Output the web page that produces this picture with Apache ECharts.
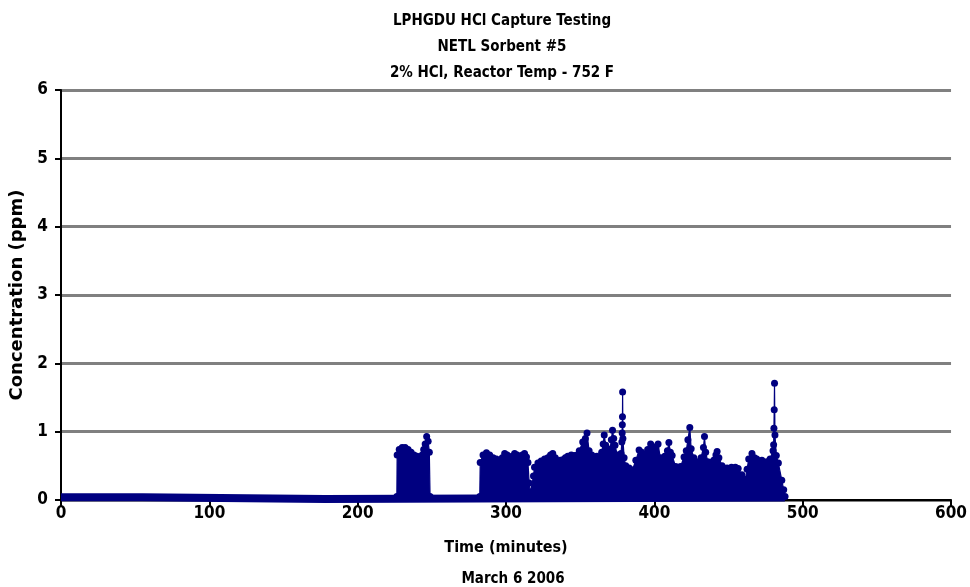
<!DOCTYPE html>
<html>
<head>
<meta charset="utf-8">
<title>LPHGDU HCl Capture Testing</title>
<script src="https://cdn.jsdelivr.net/npm/echarts@6/dist/echarts.min.js"></script>
<style>
  html, body {margin:0; padding:0; background:#fff;}
  #main {width:970px; height:587px;}
</style>
</head>
<body>
<div id="main"></div>
<script>
// baseline level (ppm) before / between the capture bursts
var baseTimes  = [0, 55, 55, 178, 178, 488];
var baseValues = [0.04, 0.04, 0.015, 0.015, 0.035, 0.035];

// upper envelope of the dense readings, time (minutes) -> ppm
var peakTimes = [
  226.4, 226.6, 228, 230, 232, 234, 236, 238, 240, 242, 243.5, 244.5, 245.5, 246.5, 247.5, 248.3, 248.8,
  282.3, 282.6, 284.5, 286.8, 289, 291.3, 293.5, 295.8, 297.5, 299.1, 300.8, 302.5, 304.2, 305.8, 307.5, 309.2,
  311, 312.5, 313.8, 314.8, 315.6, 316.5, 317.5, 318.5, 319.2, 321.5, 323.7, 326, 328.2, 330, 331.5, 333.2,
  334.9, 336.6, 338.3, 340, 341.6, 344, 346, 348, 349.4, 351.7, 353.5, 354.6, 356, 357.8, 359.5, 361.2, 362.9,
  364.5, 365.5, 366.2, 367.2, 368.5, 370, 371, 371.8, 372.6, 373.5, 375, 377.5, 378.1, 378.3, 378.4, 378.5,
  378.6, 378.8, 379.6, 380.7, 383, 385.2, 387.5, 389.7, 391.5, 393, 395.5, 397.5, 399.5, 401, 402.5, 404,
  405.4, 407, 408.8, 409.8, 410.8, 412, 414.3, 416, 417.7, 420, 421.5, 422.6, 423.9, 424.8, 426.6, 429.3,
  431.5, 433.1, 433.8, 434.6, 436, 438, 440, 441.5, 442.3, 443.5, 445.6, 447.5, 449, 452, 454.6, 456.5, 459,
  461.3, 462.5, 463.6, 465.8, 467.5, 469, 472.5, 475.8, 478, 480, 480.4, 480.6, 480.8, 481, 481.3, 482.2,
  483.6, 485.9, 487.2, 488.1
];
var peakValues = [
  0.05, 0.66, 0.74, 0.77, 0.77, 0.74, 0.70, 0.66, 0.64, 0.62, 0.66, 0.74, 0.82, 0.93, 0.86, 0.70, 0.05,
  0.05, 0.55, 0.66, 0.69, 0.66, 0.62, 0.60, 0.57, 0.62, 0.68, 0.66, 0.61, 0.64, 0.68, 0.66, 0.63,
  0.66, 0.68, 0.63, 0.55, 0.25, 0.10, 0.12, 0.35, 0.48, 0.54, 0.57, 0.60, 0.62, 0.66, 0.68, 0.62,
  0.57, 0.58, 0.59, 0.62, 0.64, 0.66, 0.65, 0.66, 0.72, 0.85, 0.90, 0.98, 0.72, 0.66, 0.62, 0.64, 0.63,
  0.70, 0.82, 0.95, 0.80, 0.75, 0.72, 0.88, 1.02, 0.90, 0.80, 0.66, 0.68, 0.85, 0.98, 1.10, 1.22,
  1.58, 0.90, 0.62, 0.50, 0.47, 0.44, 0.58, 0.73, 0.70, 0.66, 0.74, 0.82, 0.76, 0.78, 0.82, 0.62,
  0.59, 0.64, 0.72, 0.84, 0.70, 0.65, 0.49, 0.48, 0.49, 0.63, 0.72, 0.88, 1.06, 0.75, 0.62, 0.56,
  0.62, 0.77, 0.93, 0.70, 0.56, 0.55, 0.58, 0.66, 0.71, 0.62, 0.50, 0.46, 0.47, 0.48, 0.48, 0.46, 0.37,
  0.30, 0.45, 0.60, 0.68, 0.62, 0.60, 0.58, 0.56, 0.60, 0.72, 0.81, 1.05, 1.32, 1.71, 0.95, 0.65,
  0.54, 0.29, 0.15, 0.05
];

// axis ticks
var xTicks = [0, 100, 200, 300, 400, 500, 600];
var yTicks = [0, 1, 2, 3, 4, 5, 6];

var navy = '#000080';
// narrow bold face like the excel export; falls back to plain sans
var narrow = '"DejaVu Sans Condensed", "Liberation Sans Narrow", "Roboto Condensed", "Liberation Sans", sans-serif';

function pairs(xs, ys){
    return xs.map(function(x, i){ return [x, ys[i]]; });
};

var myChart = echarts.init(document.getElementById('main'), null, {renderer:'canvas'});

var option = {
    animation: false,
    backgroundColor: '#fff',
    title: [{
        text: 'LPHGDU HCl Capture Testing\nNETL Sorbent #5\n2% HCl, Reactor Temp - 752 F',
        left: 497,
        top: 3,
        textAlign: 'center',
        textStyle: {fontFamily: narrow, fontWeight: 'bold', fontSize: 15, lineHeight: 26, color: '#000'}
    }, {
        text: 'March 6 2006',
        left: 508,
        top: 567,
        textAlign: 'center',
        textStyle: {fontFamily: narrow, fontWeight: 'bold', fontSize: 15, color: '#000'}
    }],
    grid: {left: 61, right: 11, top: 90, bottom: 87, containLabel: false},
    xAxis: {
        type: 'value',
        min: xTicks[0],
        max: xTicks[xTicks.length - 1],
        interval: 100,
        name: 'Time (minutes)',
        nameLocation: 'middle',
        nameGap: 40,
        nameTextStyle: {fontFamily: narrow, fontWeight: 'bold', fontSize: 16, color: '#000'},
        axisLine: {show: true, onZero: false, lineStyle: {color: '#000', width: 2}},
        axisTick: {show: true, length: 6, lineStyle: {color: '#000', width: 2}},
        axisLabel: {fontFamily: narrow, fontWeight: 'bold', fontSize: 17, color: '#000', margin: 5},
        splitLine: {show: false}
    },
    yAxis: {
        type: 'value',
        min: yTicks[0],
        max: yTicks[yTicks.length - 1],
        interval: 1,
        name: 'Concentration (ppm)',
        nameLocation: 'middle',
        nameRotate: 90,
        nameGap: 30,
        nameTextStyle: {fontFamily: 'DejaVu Sans', fontWeight: 'bold', fontSize: 18, color: '#000'},
        axisLine: {show: true, lineStyle: {color: '#000', width: 2}},
        axisTick: {show: true, length: 6, lineStyle: {color: '#000', width: 2}},
        axisLabel: {fontFamily: narrow, fontWeight: 'bold', fontSize: 17, color: '#000', margin: 13},
        splitLine: {show: true, lineStyle: {color: '#808080', width: 3}}
    },
    series: [{
        name: 'baseline',
        type: 'line',
        data: pairs(baseTimes, baseValues),
        showSymbol: false,
        clip: false,
        lineStyle: {color: navy, width: 8},
        z: 3
    }, {
        name: 'HCl',
        type: 'line',
        data: pairs(peakTimes, peakValues),
        symbol: 'circle',
        symbolSize: 7,
        clip: false,
        itemStyle: {color: navy},
        lineStyle: {color: navy, width: 1.2},
        areaStyle: {color: navy, opacity: 1},
        z: 4
    }]
};

myChart.setOption(option);
</script>
</body>
</html>
